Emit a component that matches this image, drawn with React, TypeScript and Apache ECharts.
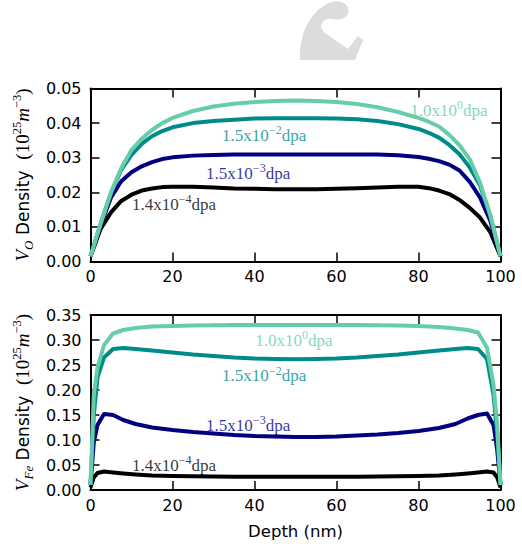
import React, { useEffect, useRef } from "react";
import * as echarts from "echarts";

// ---- O-vacancy panel (depth in nm, density in 10^25 m^-3) ----
const depthVO = [0, 2.5, 5, 7.5, 10, 12.5, 15, 17.5, 20, 25, 30, 35, 40, 45, 50, 55, 60, 65, 70, 75, 80, 82.5, 85, 87.5, 90, 92.5, 95, 97.5, 100];
const voDose4 = [0.0015, 0.0095, 0.0142, 0.0175, 0.0193, 0.0205, 0.0211, 0.0215, 0.0216, 0.0216, 0.0214, 0.0211, 0.021, 0.0209, 0.0209, 0.0209, 0.021, 0.0212, 0.0214, 0.0216, 0.0216, 0.0212, 0.0205, 0.0195, 0.0178, 0.0155, 0.0127, 0.0085, 0.0015];
const voDose3 = [0.0015, 0.0105, 0.0185, 0.0232, 0.0258, 0.0275, 0.0287, 0.0296, 0.0301, 0.0306, 0.0308, 0.0309, 0.0309, 0.0309, 0.0309, 0.0309, 0.0309, 0.0309, 0.0309, 0.0307, 0.0302, 0.0297, 0.029, 0.028, 0.0263, 0.023, 0.0185, 0.0118, 0.0015];
const voDose2 = [0.0015, 0.011, 0.0198, 0.0265, 0.0308, 0.034, 0.0362, 0.0377, 0.0388, 0.04, 0.0406, 0.041, 0.0413, 0.0414, 0.0414, 0.0414, 0.0413, 0.0411, 0.0406, 0.0397, 0.0383, 0.0372, 0.0358, 0.0337, 0.031, 0.0272, 0.022, 0.0132, 0.0015];
const voDose0 = [0.0015, 0.011, 0.02, 0.027, 0.0322, 0.0355, 0.038, 0.04, 0.0415, 0.0435, 0.0448, 0.0456, 0.0461, 0.0464, 0.0465, 0.0464, 0.0461, 0.0455, 0.0446, 0.0432, 0.0415, 0.0404, 0.039, 0.0366, 0.0336, 0.0295, 0.0228, 0.0135, 0.0015];

// ---- Fe-vacancy panel ----
const depthVFe = [0, 0.8, 1.7, 3.3, 5.5, 8, 11, 15, 20, 25, 30, 35, 40, 45, 50, 55, 60, 65, 70, 75, 80, 85, 89, 92, 94.5, 96.7, 98.3, 99.2, 100];
const vfeDose4 = [0.005, 0.025, 0.034, 0.037, 0.035, 0.033, 0.031, 0.029, 0.028, 0.0275, 0.027, 0.0265, 0.0265, 0.0265, 0.0265, 0.0265, 0.0265, 0.0265, 0.027, 0.0275, 0.028, 0.029, 0.031, 0.033, 0.035, 0.037, 0.035, 0.025, 0.005];
const vfeDose3 = [0.01, 0.095, 0.13, 0.152, 0.15, 0.14, 0.132, 0.125, 0.12, 0.116, 0.113, 0.11, 0.108, 0.107, 0.106, 0.106, 0.107, 0.109, 0.111, 0.114, 0.118, 0.124, 0.132, 0.143, 0.15, 0.153, 0.13, 0.08, 0.01];
const vfeDose2 = [0.01, 0.15, 0.225, 0.265, 0.282, 0.284, 0.282, 0.279, 0.275, 0.271, 0.268, 0.265, 0.263, 0.262, 0.2615, 0.262, 0.263, 0.265, 0.268, 0.271, 0.275, 0.279, 0.282, 0.284, 0.282, 0.262, 0.19, 0.11, 0.01];
const vfeDose0 = [0.01, 0.19, 0.245, 0.29, 0.313, 0.32, 0.324, 0.327, 0.328, 0.329, 0.3295, 0.33, 0.33, 0.33, 0.33, 0.33, 0.33, 0.33, 0.3295, 0.329, 0.328, 0.326, 0.323, 0.32, 0.315, 0.285, 0.21, 0.13, 0.01];

// Dose annotations: mantissa, exponent; anchored at [depth, density]
const doseMantissa = ["1.4x10", "1.5x10", "1.5x10", "1.0x10"];
const doseExponent = ["\u22124", "\u22123", "\u22122", "0"];
const voLabelAt = [[10.1, 0.0166], [28.2, 0.0255], [32.1, 0.0365], [78.0, 0.0437]];
const vfeLabelAt = [[10.1, 0.05], [28.2, 0.13], [32.1, 0.2286], [40.2, 0.3]];

const depthTicks = { min: 0, max: 100, interval: 20 };
const voTicks = { min: 0, max: 0.05, interval: 0.01 };
const vfeTicks = { min: 0, max: 0.35, interval: 0.05 };

const doseColors = ["#000000", "#000080", "#008b8b", "#66cdaa"];

// faint emblem fragment at the top of the page
const emblemPath =
  "M300 60 C299 38 307 16 325 5 C333 0 343 0 347 6 C350 11 348 17 342 19 C337 21 330 17 325 20 C320 23 320 29 325 33 L348 49 L358 36 L363 40 L355 60 Z";
echarts.graphic.registerShape("logo", echarts.graphic.extendPath(emblemPath, {}) as any);

const SANS = "DejaVu Sans";
const SERIF = "Liberation Serif";

const zip = (xs: number[], ys: number[]) => xs.map((x, i) => [x, ys[i]]);

function curve(xs: number[], ys: number[], color: string, xi: number, yi: number) {
  return {
    type: "line",
    xAxisIndex: xi,
    yAxisIndex: yi,
    data: zip(xs, ys),
    symbol: "none",
    silent: true,
    lineStyle: { color, width: 4, join: "round", cap: "butt" },
    itemStyle: { color },
  };
}

function doseLabels(at: number[][], xi: number, yi: number) {
  return {
    type: "scatter",
    xAxisIndex: xi,
    yAxisIndex: yi,
    symbolSize: 0,
    silent: true,
    z: 10,
    data: at.map((p, i) => ({
      value: p,
      label: {
        show: true,
        position: "right",
        distance: 0,
        formatter: `{n|${doseMantissa[i]}}{s|${doseExponent[i]}}{n|dpa}`,
        rich: {
          n: { fontFamily: SERIF, fontSize: 17, lineHeight: 22, color: doseColors[i] },
          s: { fontFamily: SERIF, fontSize: 12, lineHeight: 12, verticalAlign: "top", color: doseColors[i] },
        },
      },
    })),
  };
}

const frameLine = { show: true, onZero: false, lineStyle: { color: "#000", width: 2 } };
const innerTick = { show: true, inside: true, length: 9, lineStyle: { color: "#000", width: 1.5 } };
const tickFont = { fontFamily: SANS, fontSize: 16, color: "#000" };

const titleRich = {
  i: { fontFamily: SERIF, fontStyle: "italic", fontSize: 19, lineHeight: 24, color: "#000" },
  sub: { fontFamily: SERIF, fontStyle: "italic", fontSize: 13, lineHeight: 13, verticalAlign: "bottom", color: "#000" },
  s: { fontFamily: SANS, fontSize: 17, lineHeight: 24, color: "#000" },
  r: { fontFamily: SERIF, fontSize: 19, lineHeight: 24, color: "#000" },
  sup: { fontFamily: SERIF, fontSize: 12.5, lineHeight: 12, verticalAlign: "top", color: "#000" },
};
const densityUnit = "{r|(10}{sup|25}{i|m}{sup|\u22123}{r|)}";

function xPair(grid: number, withLabels: boolean, name?: string) {
  return [
    {
      gridIndex: grid,
      type: "value",
      position: "bottom",
      ...depthTicks,
      axisLine: frameLine,
      axisTick: innerTick,
      axisLabel: { ...tickFont, margin: 7, show: withLabels },
      splitLine: { show: false },
      name,
      nameLocation: "middle",
      nameGap: 33,
      nameTextStyle: { fontFamily: SANS, fontSize: 16.5, color: "#000" },
    },
    {
      gridIndex: grid,
      type: "value",
      position: "top",
      ...depthTicks,
      axisLine: frameLine,
      axisTick: innerTick,
      axisLabel: { show: false },
      splitLine: { show: false },
    },
  ];
}

function yPair(grid: number, ticks: any, name: string) {
  return [
    {
      gridIndex: grid,
      type: "value",
      position: "left",
      ...ticks,
      axisLine: frameLine,
      axisTick: innerTick,
      axisLabel: { ...tickFont, margin: 9, formatter: (v: number) => v.toFixed(2) },
      splitLine: { show: false },
      name,
      nameLocation: "middle",
      nameRotate: 90,
      nameGap: 56,
      nameTextStyle: { rich: titleRich },
    },
    {
      gridIndex: grid,
      type: "value",
      position: "right",
      ...ticks,
      axisLine: frameLine,
      axisTick: innerTick,
      axisLabel: { show: false },
      splitLine: { show: false },
    },
  ];
}

export default function App() {
  const ref = useRef<HTMLDivElement>(null);

  useEffect(() => {
    if (!ref.current) return;
    const chart = echarts.init(ref.current, null, { renderer: "svg" });
    chart.setOption({
      animation: false,
      backgroundColor: "#fff",
      grid: [
        { left: 90.5, top: 88.5, width: 410, height: 173 },
        { left: 90.5, top: 315, width: 410, height: 175 },
      ],
      xAxis: [...xPair(0, true), ...xPair(1, true, "Depth (nm)")],
      yAxis: [
        ...yPair(0, voTicks, "{i|V}{sub|O}{s| Density  }" + densityUnit),
        ...yPair(1, vfeTicks, "{i|V}{sub|Fe}{s| Density  }" + densityUnit),
      ],
      graphic: [
        { type: "logo", x: 0, y: 0, scaleX: 1, scaleY: 1, silent: true, style: { fill: "#dcdcdc" } },
      ],
      series: [
        curve(depthVO, voDose4, doseColors[0], 0, 0),
        curve(depthVO, voDose3, doseColors[1], 0, 0),
        curve(depthVO, voDose2, doseColors[2], 0, 0),
        curve(depthVO, voDose0, doseColors[3], 0, 0),
        doseLabels(voLabelAt, 0, 0),
        curve(depthVFe, vfeDose4, doseColors[0], 2, 2),
        curve(depthVFe, vfeDose3, doseColors[1], 2, 2),
        curve(depthVFe, vfeDose2, doseColors[2], 2, 2),
        curve(depthVFe, vfeDose0, doseColors[3], 2, 2),
        doseLabels(vfeLabelAt, 2, 2),
      ],
    });
    return () => chart.dispose();
  }, []);

  return <div ref={ref} style={{ position: "absolute", left: 0, top: 0, width: 522, height: 550 }} />;
}
